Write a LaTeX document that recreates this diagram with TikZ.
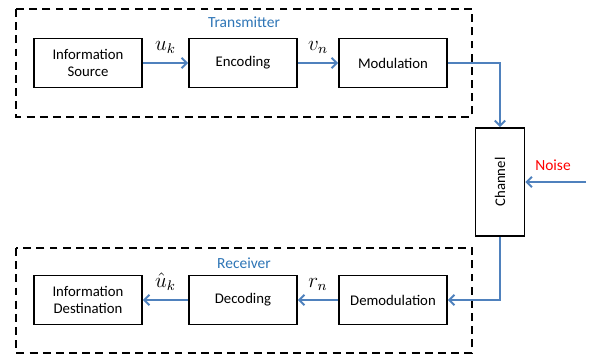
\documentclass[tikz,border=0pt]{standalone}
\usepackage{fontspec}
\setmainfont{Carlito}
\usetikzlibrary{arrows.meta}
\definecolor{lineblue}{RGB}{79,129,189}
\definecolor{titleblue}{RGB}{46,117,182}
\begin{document}
\begin{tikzpicture}[x=0.02cm,y=-0.02cm,
  block/.style={draw, line width=0.9pt, minimum width=2.16cm, minimum height=0.98cm,
    align=center, inner sep=1pt, font=\fontsize{8.4}{10}\selectfont},
  group/.style={draw, line width=1.1pt, dash pattern=on 4.5pt off 3pt},
  link/.style={lineblue, line width=1.1pt, -{Straight Barb[length=3pt,width=6pt]}},
  title/.style={text=titleblue, font=\fontsize{8.8}{10}\selectfont},
  sym/.style={text=black, font=\large, inner sep=0pt}]
  \useasboundingbox (0,0) rectangle (591,357);
  % transmitter
  \draw[group] (16,9) rectangle (472,117);
  \node[title] (tx) at (244,22) {Transmitter};
  \node[block] (src) at (88,63)  {Information\\Source};
  \node[block] (enc) at (243,63) {Encoding};
  \node[block] (mod) at (393,63) {Modulation};
  % channel
  \node[block, rotate=90] (chan) at (500,182) {Channel};
  \coordinate (nz) at (586,182);
  \node[text=red, font=\fontsize{8.8}{10}\selectfont] (noise) at (553,165) {Noise};
  % receiver
  \draw[group] (16,248) rectangle (472,353);
  \node[title] (rx) at (244,263) {Receiver};
  \node[block] (dst) at (88,300)  {Information\\Destination};
  \node[block] (dec) at (243,300) {Decoding};
  \node[block] (dem) at (393,300) {Demodulation};
  % links
  \draw[link] (src) -- (enc) node[sym, midway, above=5pt] {$u_k$};
  \draw[link] (enc) -- (mod) node[sym, midway, above=5pt] {$v_n$};
  \draw[link] (mod.east) -| (chan.east);
  \draw[link] (nz) -- (chan.south);
  \draw[link] (chan.west) |- (dem.east);
  \draw[link] (dem) -- (dec) node[sym, midway, above=5pt] {$r_n$};
  \draw[link] (dec) -- (dst) node[sym, midway, above=5pt] {$\hat{u}_k$};
\end{tikzpicture}
\end{document}
